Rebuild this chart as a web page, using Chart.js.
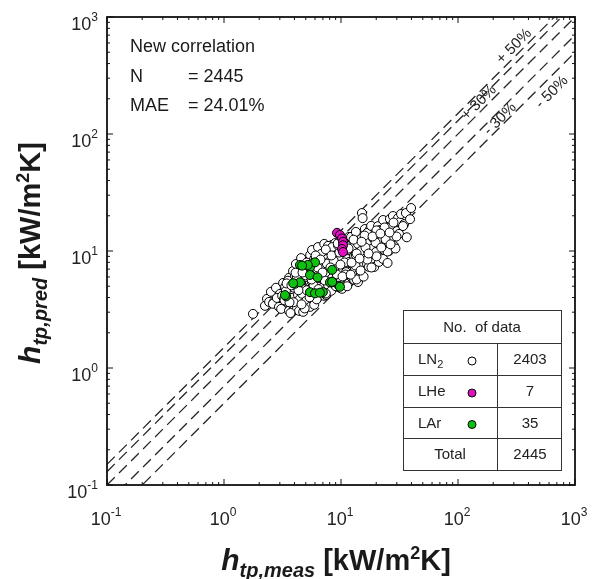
<!DOCTYPE html>
<html>
<head>
<meta charset="utf-8">
<script src="https://cdn.jsdelivr.net/npm/chart.js@4.4.1/dist/chart.umd.min.js"></script>
<style>
  html, body { margin: 0; padding: 0; background: #fff; }
  canvas { display: block; }
</style>
</head>
<body>
<canvas id="myChart" width="600" height="579"></canvas>
<script>
const FONT = '"Liberation Sans", Arial, sans-serif';

// LN2 points [h_tp,meas, h_tp,pred] in kW/m2K
const ln2Pairs = [
    [1.77, 2.90], [2.24, 3.40], [2.33, 3.90], [2.43, 3.67],
    [2.52, 4.48], [2.67, 3.68], [2.62, 3.54],
    [2.78, 4.85], [3.01, 4.30], [2.83, 3.97], [2.95, 3.33],
    [3.2, 5.33], [3.33, 4.95], [3.14, 4.14], [3.26, 3.90], [3.08, 3.2],
    [3.59, 5.89], [3.52, 5.57], [3.38, 4.56], [3.66, 3.98], [3.45, 3.67], [3.59, 3.08],
    [3.89, 6.73], [4.05, 6.12], [3.81, 5.15], [3.97, 4.85], [3.74, 3.98], [3.97, 3.21], [3.89, 3.08],
    [4.12, 7.74], [4.46, 6.62], [4.20, 5.98], [4.38, 5.05], [4.29, 4.22], [4.46, 3.90], [4.20, 3.20], [4.38, 3.08],
    [4.56, 8.7], [4.85, 7.03], [4.75, 6.76], [4.56, 5.33], [4.94, 4.75], [4.66, 4.31], [4.85, 3.6], [4.75, 3.02],
    [5.45, 9.23], [5.14, 7.89], [5.34, 7.32], [5.04, 6.0], [5.34, 4.86], [5.24, 4.66], [5.04, 3.75], [5.45, 3.33],
    [5.66, 10.2], [5.9, 8.55], [5.78, 7.16], [6.01, 6.48], [5.66, 5.44], [5.9, 5.14], [5.55, 4.22], [5.9, 3.47],
    [6.36, 10.8], [6.11, 8.70], [6.61, 7.74], [6.23, 7.02], [6.49, 5.9], [6.36, 4.95], [6.61, 4.57], [6.23, 3.90],
    [7.19, 11.5], [6.78, 9.45], [7.19, 7.73], [7.05, 7.44], [6.78, 6.01], [7.33, 5.24], [6.91, 4.84], [7.19, 4.14],
    [7.74, 11.05], [8.05, 10.2], [7.59, 8.53], [7.89, 8.06], [7.44, 6.6], [7.89, 5.33], [7.74, 5.15], [7.44, 4.22],
    [8.93, 11.7], [8.42, 10.8], [8.76, 9.05], [8.59, 7.59], [8.93, 7.04], [8.42, 5.88], [8.76, 5.57], [8.25, 4.57],
    [9.61, 11.7], [9.42, 11.2], [9.05, 9.08], [9.8, 8.04], [9.23, 7.44], [9.61, 6.25], [9.42, 5.24], [9.8, 4.85],
    [10.2, 11.5], [10.6, 10.8], [10.0, 8.9], [10.6, 7.31], [10.4, 7.02], [10.0, 5.67], [10.8, 5.05], [10.2, 4.75],
    [11.7, 13.2], [11.5, 11.05], [11.96, 10.2], [11.3, 8.53], [11.7, 8.06], [11.05, 6.6], [11.7, 5.42], [11.5, 5.25],
    [12.2, 13.2], [13.2, 11.7], [12.45, 10.8], [12.95, 9.05], [12.7, 7.59], [13.2, 7.04], [12.45, 5.88], [12.95, 5.68],
    [13.4, 14.55], [14.2, 11.9], [13.96, 11.5], [13.4, 9.23], [14.5, 8.24], [13.7, 7.6], [14.2, 6.35], [13.96, 5.43],
    [16.0, 15.4], [15.1, 12.95], [15.7, 12.2], [14.8, 10.0], [15.7, 8.2], [15.4, 7.91], [14.8, 6.34],
    [17.7, 15.4], [16.7, 14.25], [17.3, 11.95], [17.0, 10.0], [17.7, 9.23], [16.7, 7.74], [17.3, 7.32],
    [18.1, 16.4], [19.2, 13.4], [18.8, 12.9], [18.1, 10.4], [19.55, 9.26], [18.4, 8.53], [19.2, 7.3],
    [20.7, 16.3], [21.5, 15.1], [20.3, 12.65], [21.1, 11.9], [19.9, 9.8], [21.1, 8.07],
    [22.9, 18.4], [22.0, 14.8], [23.8, 13.2], [22.4, 12.2], [23.4, 10.2], [22.9, 8.55],
    [26.2, 18.8], [24.7, 15.7], [25.7, 14.85], [24.2, 12.2], [25.7, 10.0],
    [27.8, 19.9], [26.7, 16.05], [28.9, 14.25], [27.2, 13.2], [28.4, 11.05],
    [30.7, 19.1], [31.9, 17.7], [30.1, 14.8], [31.3, 14.0],
    [32.6, 20.7], [34.6, 16.97], [33.9, 16.35],
    [35.9, 21.1], [38.9, 18.7], [39.7, 23.3],
    [15.1, 21.1], [15.3, 19.1], [36.5, 13.1], [25.0, 7.9],
    // second, overlapping layer
    [3.43, 5.28], [3.29, 3.79],
    [4.09, 6.53], [4.25, 5.10], [3.93, 3.65],
    [5.09, 7.96], [4.99, 6.19], [5.09, 4.62], [4.89, 3.23],
    [6.07, 9.15], [6.31, 7.23], [5.83, 5.08], [6.19, 3.86],
    [7.41, 10.3], [7.56, 7.80], [7.26, 5.60], [7.41, 4.34],
    [9.38, 11.6], [8.66, 8.28], [9.20, 6.31], [9.02, 5.0],
    [11.1, 11.1], [10.7, 7.98], [10.9, 6.30], [11.3, 5.0],
    [12.8, 12.5], [13.6, 9.52], [13.3, 7.52], [13.6, 5.71],
    [15.9, 13.55], [16.2, 10.7], [16.8, 8.45], [15.6, 6.04],
    [20.1, 15.0], [19.75, 11.8], [20.1, 9.0],
    [23.6, 15.9], [24.05, 12.6], [25.0, 9.9],
    [28.1, 17.5], [29.8, 13.3], [29.2, 10.5],
    [3.77, 5.09], [3.63, 3.64], [3.70, 2.95],
    [4.69, 6.55], [4.33, 4.62], [4.60, 3.50],
    [5.50, 7.66], [5.61, 5.71], [5.39, 4.02],
    [6.68, 8.45], [6.95, 6.55], [6.42, 4.72],
    [8.29, 9.16], [8.13, 7.23], [8.29, 5.38],
    [9.69, 9.7], [9.89, 7.65], [10.3, 6.06],
    [11.6, 10.5], [12.3, 7.96], [12.1, 6.28],
    [15.0, 12.0], [14.4, 8.61], [14.7, 6.81],
    [18.6, 13.3], [17.2, 9.52], [18.2, 7.23],
    [21.7, 14.1], [22.1, 10.7],
    [26.0, 14.4], [26.5, 11.4]
];

// LHe
const lheMeas = [9.25, 9.8, 10.2, 10.4, 10.4, 10.2, 10.4];
const lhePred = [14.3, 13.7, 12.8, 12.0, 11.2, 10.4, 9.8];

// LAr
const larMeas = [4.46, 5.43, 6.0, 5.43, 6.3, 8.4, 4.05, 4.46, 3.4, 5.43, 6.0, 7.0, 8.05, 9.6,
                 5.2, 3.9, 6.6, 3.32, 9.8, 8.4, 4.65];
const larPred = [7.6, 7.25, 8.0, 6.24, 5.95, 6.9, 5.25, 5.4, 4.1, 4.45, 4.35, 4.45, 5.4, 5.05,
                 7.6, 5.3, 4.4, 4.2, 4.95, 5.45, 7.5];

// error bands (pred = ratio * meas)
const bandRatios = [1.5, 1.3, 1.0, 0.7, 0.5];
const bandLabels = [
    { text: '+ 50%', ratio: 1.5, at: 301, dy: -11 },
    { text: '+ 30%', ratio: 1.3, at: 151, dy: 3 },
    { text: '- 30%', ratio: 0.7, at: 229, dy: 9 },
    { text: '- 50%', ratio: 0.5, at: 635, dy: 17 }
];

const decades = [-1, 0, 1, 2, 3];

// table
const fluids = ['LN', 'LHe', 'LAr'];
const fluidSub = ['2', '', ''];
const fluidColors = ['#ffffff', '#e010c0', '#10c010'];
const counts = [2403, 7, 35];
const total = counts.reduce((s, c) => s + c, 0);
const mae = 24.01;

const ln2Points = ln2Pairs.map(([x, y]) => ({ x: x, y: y }));
const lhePoints = lheMeas.map((x, i) => ({ x: x, y: lhePred[i] }));
const larPoints = larMeas.map((x, i) => ({ x: x, y: larPred[i] }));

const bandSets = bandRatios.map(r => ({
    data: [{ x: 0.1, y: 0.1 * r }, { x: 1000, y: 1000 * r }],
    showLine: true,
    borderColor: '#262626',
    borderWidth: 1.3,
    borderDash: [11, 6],
    pointRadius: 0,
    clip: 0,
    order: 10
}));

function markerSet(points, fill, order) {
    return {
        data: points,
        pointRadius: 4.5,
        pointBorderWidth: 1,
        pointBorderColor: '#000',
        pointBackgroundColor: fill,
        order: order
    };
}

// draws a run of text pieces with their own font and vertical shift
function richText(ctx, parts, x, y, align) {
    let w = 0;
    parts.forEach(p => { ctx.font = p.font; w += ctx.measureText(p.text).width; });
    let cx = align === 'center' ? x - w / 2 : (align === 'right' ? x - w : x);
    ctx.textAlign = 'left';
    parts.forEach(p => {
        ctx.font = p.font;
        ctx.fillText(p.text, cx, y + (p.dy || 0));
        cx += ctx.measureText(p.text).width;
    });
}

function line(ctx, x1, y1, x2, y2) {
    ctx.beginPath(); ctx.moveTo(x1, y1); ctx.lineTo(x2, y2); ctx.stroke();
}

function dot(ctx, x, y, fill) {
    ctx.beginPath(); ctx.arc(x, y, 4, 0, Math.PI * 2);
    ctx.fillStyle = fill; ctx.fill();
    ctx.lineWidth = 1; ctx.strokeStyle = '#000'; ctx.stroke();
}

const decorations = {
    id: 'decorations',
    afterDatasetsDraw(chart) {
        const ctx = chart.ctx;
        const a = chart.chartArea;
        const xs = chart.scales.x, ys = chart.scales.y;
        ctx.save();
        ctx.setLineDash([]);
        ctx.fillStyle = '#1a1a1a';
        ctx.textBaseline = 'alphabetic';

        // band labels
        ctx.font = '15px ' + FONT;
        ctx.fillStyle = '#222';
        bandLabels.forEach(l => {
            const px = xs.getPixelForValue(l.at);
            const py = ys.getPixelForValue(l.at * l.ratio) + l.dy;
            ctx.save();
            ctx.translate(px, py);
            ctx.rotate(-Math.PI / 4);
            ctx.textAlign = 'center';
            ctx.textBaseline = 'middle';
            ctx.fillText(l.text, 0, 0);
            ctx.restore();
        });

        // frame and inward ticks
        ctx.strokeStyle = '#111';
        ctx.lineWidth = 1.8;
        ctx.strokeRect(a.left, a.top, a.right - a.left, a.bottom - a.top);
        ctx.lineWidth = 1;
        for (let k = -1; k <= 3; k++) {
            for (let m = 1; m <= 9; m++) {
                if (k === 3 && m > 1) break;
                const v = m * Math.pow(10, k);
                const len = m === 1 ? 6 : 3;
                const px = xs.getPixelForValue(v);
                const py = ys.getPixelForValue(v);
                line(ctx, px, a.bottom, px, a.bottom - len);
                line(ctx, px, a.top, px, a.top + len);
                line(ctx, a.left, py, a.left + len, py);
                line(ctx, a.right, py, a.right - len, py);
            }
        }

        // tick labels 10^n
        ctx.fillStyle = '#222';
        decades.forEach(e => {
            const parts = [
                { text: '10', font: '18px ' + FONT },
                { text: String(e), font: '12px ' + FONT, dy: -9 }
            ];
            const px = xs.getPixelForValue(Math.pow(10, e));
            richText(ctx, parts, px - 1, 525, 'center');
            const py = ys.getPixelForValue(Math.pow(10, e));
            richText(ctx, parts, a.left - 9, py + 13, 'right');
        });

        // annotation
        ctx.fillStyle = '#1a1a1a';
        ctx.font = '18px ' + FONT;
        ctx.textAlign = 'left';
        ctx.fillText('New correlation', 130, 52);
        ctx.fillText('N', 130, 82);
        ctx.fillText('= ' + total, 188, 82);
        ctx.fillText('MAE', 130, 111);
        ctx.fillText('= ' + mae.toFixed(2) + '%', 188, 111);

        // axis titles
        const big = 'bold 29px ' + FONT, bigIt = 'italic bold 30px ' + FONT;
        const subIt = 'italic bold 20px ' + FONT, sup = 'bold 18px ' + FONT;
        const title = sub => [
            { text: 'h', font: bigIt },
            { text: sub, font: subIt, dy: 7 },
            { text: ' [kW/m', font: big },
            { text: '2', font: sup, dy: -11 },
            { text: 'K]', font: big }
        ];
        ctx.fillStyle = '#1a1a1a';
        richText(ctx, title('tp,meas'), 336, 570, 'center');
        ctx.save();
        ctx.translate(40, 253);
        ctx.rotate(-Math.PI / 2);
        richText(ctx, title('tp,pred'), 0, 0, 'center');
        ctx.restore();

        // data count table
        const tl = 403, tr = 561, tm = 497;
        const rows = [310, 343, 375, 407, 438, 470];
        ctx.fillStyle = '#fff';
        ctx.fillRect(tl, rows[0], tr - tl, rows[5] - rows[0]);
        ctx.strokeStyle = '#333';
        ctx.lineWidth = 1;
        ctx.strokeRect(tl + 0.5, rows[0] + 0.5, tr - tl, rows[5] - rows[0]);
        for (let i = 1; i < 5; i++) line(ctx, tl, rows[i] + 0.5, tr, rows[i] + 0.5);
        line(ctx, tm + 0.5, rows[1], tm + 0.5, rows[5]);

        ctx.fillStyle = '#222';
        ctx.font = '15px ' + FONT;
        ctx.textAlign = 'center';
        ctx.fillText('No.  of data', (tl + tr) / 2, 332);
        fluids.forEach((f, i) => {
            const mid = (rows[i + 1] + rows[i + 2]) / 2;
            ctx.fillStyle = '#222';
            richText(ctx, [
                { text: f, font: '15px ' + FONT },
                { text: fluidSub[i], font: '11px ' + FONT, dy: 4 }
            ], 418, mid + 5, 'left');
            ctx.textAlign = 'center';
            ctx.font = '15px ' + FONT;
            ctx.fillText(String(counts[i]), (tm + tr) / 2 + 1, mid + 5);
            dot(ctx, 472, mid + 2, fluidColors[i]);
        });
        ctx.fillStyle = '#222';
        ctx.textAlign = 'center';
        ctx.font = '15px ' + FONT;
        const lastMid = (rows[4] + rows[5]) / 2;
        ctx.fillText('Total', (tl + tm) / 2, lastMid + 5);
        ctx.fillText(String(total), (tm + tr) / 2 + 1, lastMid + 5);

        ctx.restore();
    }
};

const ctx = document.getElementById('myChart').getContext('2d');
const myChart = new Chart(ctx, {
    type: 'scatter',
    data: {
        datasets: [
            markerSet(ln2Points, '#ffffff', 3),
            markerSet(lhePoints, '#e010c0', 2),
            markerSet(larPoints, '#10c010', 1),
            ...bandSets
        ]
    },
    options: {
        responsive: false,
        animation: false,
        events: [],
        layout: { padding: { left: 107, right: 25, top: 17, bottom: 94 } },
        plugins: { legend: { display: false }, tooltip: { enabled: false } },
        scales: {
            x: { type: 'logarithmic', min: 0.1, max: 1000, display: false },
            y: { type: 'logarithmic', min: 0.1, max: 1000, display: false }
        }
    },
    plugins: [decorations]
});
</script>
</body>
</html>
